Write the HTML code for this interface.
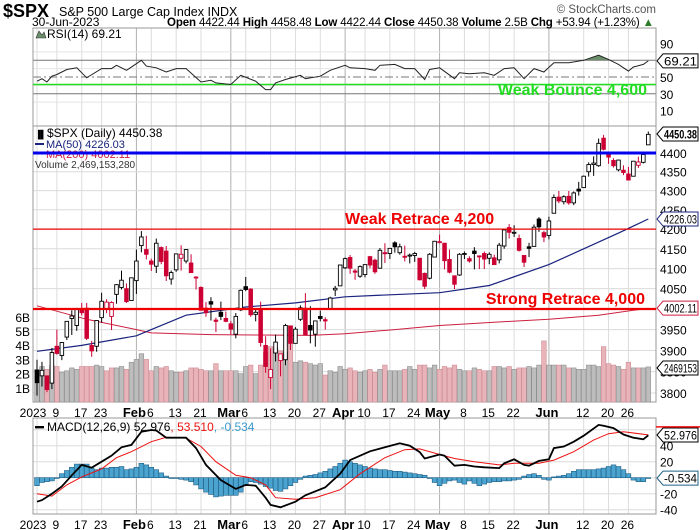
<!DOCTYPE html>
<html><head><meta charset="utf-8"><style>
html,body{margin:0;padding:0;background:#fff;}
svg{display:block;font-family:"Liberation Sans",sans-serif;}
</style></head><body>
<svg id="c" width="700" height="530" viewBox="0 0 700 530" xmlns="http://www.w3.org/2000/svg">
<defs><clipPath id="rsiTop"><rect x="33" y="28" width="623" height="32"/></clipPath></defs>
<g id="grid"></g>
<g id="layer"></g>
<text x="3" y="17" font-size="18" font-weight="bold">$SPX</text>
<text x="59" y="16" font-size="12.5">S&amp;P 500 Large Cap Index  INDX</text>
<text x="32" y="26" font-size="12">30-Jun-2023</text>
<text x="167" y="26" font-size="11.5" textLength="487"><tspan font-weight="bold">Open</tspan> 4422.44 <tspan font-weight="bold">High</tspan> 4458.48 <tspan font-weight="bold">Low</tspan> 4422.44 <tspan font-weight="bold">Close</tspan> 4450.38 <tspan font-weight="bold">Volume</tspan> 2.5B <tspan font-weight="bold">Chg</tspan> +53.94 (+1.23%) <tspan fill="#2a7a2a">▲</tspan></text>
<text x="656" y="13" font-size="11.5" fill="#555" text-anchor="end">© StockCharts.com</text>
</svg>
<script>
const NS='http://www.w3.org/2000/svg';
const svg=document.getElementById('c');
const layer=document.getElementById('layer');
const grid=document.getElementById('grid');
const opens=[3853,3840,3840,3823,3910,3888,3932,3977,3960,3999,4002,3912,3910,3979,4001,3982,4036,4053,4050,4021,
4070,4158,4148,4119,4106,4153,4144,4074,4097,4126,4119,4114,4077,4053,4002,4018,3973,3992,3977,
3964,3939,3998,4055,4049,3987,3998,3912,3836,3894,3876,3878,3958,3917,3975,4002,3960,3939,3982,3974,3999,4047,4057,
4102,4128,4094,4081,4085,4130,4121,4101,4140,4138,4165,4140,4131,4133,4133,4126,4088,4076,4129,
4166,4164,4123,4082,4084,4136,4125,4144,4132,4138,4126,4127,4122,4157,4204,4191,4176,4133,4155,4156,4226,4191,
4184,4241,4283,4271,4285,4268,4304,4308,4350,4369,4366,4440,4396,4380,4355,4354,4344,4338,4367,4375,4422];
const highs=[3878,3873,3840,3906,3950,3920,3970,3997,4003,4015,4015,3923,3972,4040,4024,4019,4061,4095,4063,4077,
4148,4195,4183,4125,4176,4156,4157,4095,4138,4159,4149,4136,4081,4056,4017,4029,3979,4018,3994,
3971,3990,4048,4079,4051,4000,4018,3934,3905,3938,3891,3964,3959,3956,4009,4039,4007,3972,3996,3980,4030,4057,4109,
4128,4134,4099,4108,4110,4132,4125,4152,4164,4152,4169,4163,4158,4138,4142,4127,4090,4139,4170,
4186,4165,4148,4083,4139,4143,4131,4154,4132,4143,4141,4135,4165,4199,4213,4210,4186,4132,4165,4212,4231,4196,
4232,4290,4299,4288,4299,4298,4323,4340,4375,4391,4439,4449,4401,4386,4382,4367,4363,4378,4390,4398,4458];
const lows=[3794,3815,3802,3809,3890,3877,3925,3937,3947,3984,3925,3885,3897,3967,3990,3949,4013,4048,4015,4021,
4037,4141,4123,4094,4089,4111,4069,4060,4092,4095,4113,4089,4048,3997,3981,3972,3944,3973,3968,
3939,3929,3995,4044,3981,3970,3909,3847,3809,3874,3839,3865,3901,3917,3971,3936,3917,3909,3970,3950,3999,4032,4057,
4099,4087,4072,4077,4078,4101,4087,4100,4114,4124,4140,4135,4118,4113,4117,4071,4049,4073,4128,
4164,4098,4088,4049,4082,4124,4115,4098,4099,4099,4111,4109,4113,4150,4176,4180,4143,4104,4129,4156,4193,4167,
4174,4241,4267,4264,4263,4262,4287,4308,4337,4339,4363,4407,4371,4361,4351,4341,4328,4338,4360,4372,4422];
const closes=[3824,3853,3808,3895,3893,3919,3970,3983,3999,3991,3929,3899,3972,4019,4017,4016,4060,4071,4018,4077,
4119,4180,4136,4111,4164,4118,4082,4090,4137,4136,4148,4090,4079,3997,3991,4012,3970,3982,3970,
3951,3982,4046,4048,3986,3992,3919,3862,3855,3920,3892,3960,3917,3951,4003,3937,3949,3971,3977,3971,4027,4051,4109,
4125,4101,4091,4105,4110,4109,4092,4146,4138,4151,4155,4155,4130,4134,4138,4072,4056,4136,4169,
4168,4120,4091,4061,4136,4138,4119,4138,4131,4124,4136,4110,4159,4198,4192,4192,4146,4116,4151,4205,4206,4180,
4221,4282,4273,4284,4268,4294,4299,4338,4369,4373,4426,4410,4389,4366,4381,4348,4328,4378,4376,4396,4450.38];
const volumes=[2.3,2.5,2.3,2.6,2.5,2.1,2.2,2.4,2.3,2.5,2.5,2.5,2.6,2.5,2.2,2.4,2.4,2.5,2.3,2.8,
3.0,3.4,3.0,2.2,2.5,2.4,2.5,2.2,2.1,2.1,2.2,2.4,2.4,2.3,2.2,2.2,2.7,2.2,2.2,
2.2,2.2,2.0,2.5,2.6,2.0,2.6,3.5,3.9,3.8,3.6,3.5,5.4,2.8,2.9,2.8,2.7,2.6,2.7,1.9,2.2,2.1,2.5,
2.3,2.4,2.2,2.1,2.2,2.3,2.1,2.3,2.6,2.2,2.2,2.2,2.3,2.5,2.3,2.6,2.6,2.4,2.6,
2.3,2.5,2.4,2.6,2.3,2.2,2.2,2.4,2.3,2.2,2.2,2.5,2.5,2.4,2.5,2.3,2.4,2.4,2.5,2.4,2.6,4.3,
2.6,2.6,2.6,2.6,2.4,2.4,2.3,2.3,2.6,2.6,2.5,3.9,2.7,2.6,2.5,2.3,2.8,2.4,2.4,2.4,2.469];
const ma50Day=[0,9,20,23,30,42,52,62,71,81,91,103,110,117,123];
const ma50Val=[3898,3912,3935,3950,3985,4005,4015,4030,4035,4040,4058,4110,4150,4190,4226.03];
const ma200Day=[0,10,20,23,35,45,55,62,72,81,92,103,113,123];
const ma200Val=[4008,3975,3950,3942,3938,3937,3936,3940,3950,3960,3968,3975,3985,4002.11];
const rsiDay=[0,1,2,3,4,6,8,10,13,15,16,18,21,22,24,26,28,30,33,35,36,39,41,44,46,47,48,50,53,54,57,59,62,63,66,68,69,72,74,76,78,79,81,84,85,87,90,92,94,96,98,100,102,104,107,110,113,115,117,119,120,122,123];
const rsiVal=[45,48,44,51,53,59,61,49,60,60,64,58,70,63,61,56,60,60,44,46,43,41,52,45,35,35,43,47,52,48,51,58,64,61,60,58,64,65,60,60,47,59,61,48,55,54,55,52,60,61,48,60,56,67,67,70,76,71,65,57,62,65,69.21];
const macdDay=[0,1,3,5,7,9,11,13,15,17,19,21,23,24,26,30,32,34,37,40,42,44,46,47,49,52,54,58,61,63,67,70,73,75,77,78,81,82,84,86,88,90,93,94,96,98,99,101,103,104,106,108,110,113,114,116,118,120,122,123];
const macdVal=[-30,-28,-20,-11,3,16,12.5,20,27.5,38,41,57.5,59.6,59,50,50,37,16,-3,-14,-9,-10,-25,-34,-37,-30,-22,-12,5,22,33,38,43,40,32,24,29,27.5,15,16,14,13,12,18,23,16,15,21,23,37,39,45,52.5,66,65,62,54,50,48,52.976];
const sigDay=[0,3,6,9,13,16,19,23,26,30,33,36,40,43,46,48,52,56,61,65,70,74,77,81,84,88,93,96,101,104,108,112,115,118,123];
const sigVal=[-20,-23,-9,1,11,25,32.5,45,50.5,49.5,39,20,3,0,-9,-25,-27,-25,-15,5,25,35,36,29,24,20,16,18,18,22,32.5,47,55,57.5,53.51];
const histVal=[-10,-6,-5,-4,-1,5,9,13,17,17,17,12,10,12,12,13,13,14,10,11,13,18,16,13,10,6,2,-1,-1,-2,
-3,-5,-9,-14,-18,-21,-24,-23,-22,-22,-22,-18,-10,-5,-6,-8,-11,-13,-16,-17,-14,-10,-6,-2,2,3,4,6,8,11,
14,18,22,20,18,16,14,12,11,10,10,9,8,8,7,6,5,4,3,0,-6,-10,-7,-4,-3,-6,-8,-4,-7,-10,
-8,-6,-5,-5,-4,-4,-3,-2,2,4,5,3,-2,-3,1,2,3,5,8,10,10,10,10,11,12,14,16,14,10,5,-3,-5,-5,-0.534];
const tickDay=[0,4,9,13,20,23,28,33,39,42,47,52,57,62,66,71,76,81,86,91,96,103,110,115,119];
const tickLabel=['2023','9','17','23','Feb','6','13','21','Mar','6','13','20','27','Apr','10','17','24','May','8','15','22','Jun','12','20','26'];
const priceTicks=[4400,4350,4300,4250,4200,4150,4100,4050,4000,3950,3900,3850,3800];
const rsiTicks=[90,70,50,30,10];
const volTicks=[1,2,3,4,5,6];
const macdTicks=[60,40,20,0,-20,-40];

const X0=33,X1=656;
const xi=i=>37+i*4.97;
const yP=p=>153+(Math.log(4400)-Math.log(p))*1637;
const yV=v=>402-v*14.2;
const yR=r=>77-(r-50)*0.8375;
const yM=m=>477.7-m*0.8;

function el(tag,attrs,parent){const e=document.createElementNS(NS,tag);for(const k in attrs)e.setAttribute(k,attrs[k]);(parent||layer).appendChild(e);return e;}
function txt(x,y,s,attrs,parent){const t=el('text',Object.assign({x:x,y:y,'font-size':11},attrs||{}),parent);t.textContent=s;return t;}

const panels=[[28,126],[126,402],[418,514]];
panels.forEach(p=>{
  tickDay.forEach((d,k)=>{
    const month=isNaN(+tickLabel[k])&&k>0;
    el('line',{x1:xi(d),x2:xi(d),y1:p[0],y2:p[1],stroke:month?'#b0b0b0':'#dcdcdc','stroke-width':1},grid);
  });
});
priceTicks.forEach(v=>{el('line',{x1:X0,x2:X1,y1:yP(v),y2:yP(v),stroke:'#dcdcdc'},grid);});
[80,60,40,20].forEach(v=>{el('line',{x1:X0,x2:X1,y1:yR(v),y2:yR(v),stroke:'#e4e4e4'},grid);});
[70,30].forEach(v=>{el('line',{x1:X0,x2:X1,y1:yR(v),y2:yR(v),stroke:'#777'},grid);});
el('line',{x1:X0,x2:X1,y1:yR(50),y2:yR(50),stroke:'#777','stroke-dasharray':'8,3,2,3'},grid);
macdTicks.forEach(v=>{el('line',{x1:X0,x2:X1,y1:yM(v),y2:yM(v),stroke:'#dcdcdc'},grid);});
[[28,126],[126,402],[418,514]].forEach(p=>{el('rect',{x:X0,y:p[0],width:X1-X0,height:p[1]-p[0],fill:'none',stroke:'#999'},grid);});

rsiTicks.forEach(v=>{if(v!==70){const t=txt(660,yR(v)+5,String(v),{'font-size':12});

}});
priceTicks.forEach(v=>{const t=txt(660,yP(v)+5,String(v),{'font-size':12});

});
volTicks.forEach(v=>{const t=txt(30,yV(v)+5,v+'B',{'font-size':12,'text-anchor':'end'});

});
macdTicks.forEach(v=>{if(v!==60&&v!==0){const t=txt(660,yM(v)+5,String(v),{'font-size':12});

}});
[417,529].forEach(by=>{
  tickDay.forEach((d,k)=>{
    const s=tickLabel[k];const bold=isNaN(+s);
    const cx=k===0?33:(bold?xi(d)-2:xi(d)-1);
    const t=txt(cx,by,s,{'font-size':bold?13:12,'font-weight':bold?'bold':'normal','text-anchor':'middle'});
    
    
  });
});

volumes.forEach((v,i)=>{
  const down=i>0&&closes[i]<closes[i-1];
  const r=el('rect',{x:xi(i)-2.3,y:yV(v),width:4.6,height:402-yV(v),fill:down?'#e8b4ba':'#bdbdbd',stroke:down?'#cf8d95':'#8f8f8f','stroke-width':0.6});
  
  
});

function pathFrom(days,vals,yf){return days.map((d,k)=>(k?'L':'M')+xi(d).toFixed(1)+','+yf(vals[k]).toFixed(1)).join('');}
const m200=el('path',{d:pathFrom(ma200Day,ma200Val,yP),fill:'none',stroke:'#cc1f3f','stroke-width':1});


const m50=el('path',{d:pathFrom(ma50Day,ma50Val,yP),fill:'none',stroke:'#1a237e','stroke-width':1.2});



closes.forEach((c,i)=>{
  const o=opens[i];const down=i>0&&c<closes[i-1];const col=down?'#cc0033':'#000';
  const g=el('g',{});
  
  
  el('line',{x1:xi(i),x2:xi(i),y1:yP(highs[i]),y2:yP(lows[i]),stroke:col,'stroke-width':1},g);
  const top=yP(Math.max(o,c)),bot=yP(Math.min(o,c));
  el('rect',{x:xi(i)-1.8,y:top,width:3.6,height:Math.max(1,bot-top),fill:c<o?col:'#fff',stroke:col,'stroke-width':0.9},g);
});

const l4400=el('line',{x1:X0,x2:X1,y1:yP(4400),y2:yP(4400),stroke:'#0000ee','stroke-width':3});


const l4200=el('line',{x1:X0,x2:X1,y1:yP(4200),y2:yP(4200),stroke:'#ee0000','stroke-width':1.3});


const l4000=el('line',{x1:X0,x2:X1,y1:yP(4000),y2:yP(4000),stroke:'#ee0000','stroke-width':2.2});


const lg=el('line',{x1:X0,x2:X1,y1:84.5,y2:84.5,stroke:'#22dd22','stroke-width':1.6});


let t;
t=txt(647,95,'Weak Bounce 4,600',{'font-size':16,'font-weight':'bold',fill:'#22dd22','text-anchor':'end'});


t=txt(345,224,'Weak Retrace 4,200',{'font-size':16,'font-weight':'bold',fill:'#ee0000'});


t=txt(645,304,'Strong Retrace 4,000',{'font-size':16,'font-weight':'bold',fill:'#ee0000','text-anchor':'end'});



const rsiPath=pathFrom(rsiDay,rsiVal,yR);
const rsiFill=el('path',{d:rsiPath+'L'+xi(123)+','+yR(70)+'L'+xi(0)+','+yR(70)+'Z',fill:'#6b8e6b','clip-path':'url(#rsiTop)'});


const rsiLine=el('path',{d:rsiPath,fill:'none',stroke:'#222','stroke-width':1});



histVal.forEach((v,i)=>{
  const y=Math.min(yM(v),yM(0));
  const r=el('rect',{x:xi(i)-2.4,y:y,width:4.8,height:Math.max(0.8,Math.abs(yM(v)-yM(0))),fill:'#4ba3cf',stroke:'#1f5f86','stroke-width':0.6});
  
  
});
const sig=el('path',{d:pathFrom(sigDay,sigVal,yM),fill:'none',stroke:'#ee1111','stroke-width':1});


const mac=el('path',{d:pathFrom(macdDay,macdVal,yM),fill:'none',stroke:'#000','stroke-width':1.8});



const ri=el('path',{d:'M36,38 L39,31 L42,35 L44,32 L46,38 Z',fill:'#6b8e6b',stroke:'#333','stroke-width':0.6});


t=txt(47,38,'RSI(14) 69.21',{'font-size':12});


t=txt(35,137,'\u2590\u258C',{'font-size':8});


t=txt(47,137,'$SPX (Daily) 4450.38',{'font-size':12});


el('rect',{x:35,y:143,width:9,height:2,fill:'#1a237e'});
t=txt(46,148,'MA(50) 4226.03',{'font-size':11,fill:'#1a237e'});


t=txt(46,158,'MA(200) 4002.11',{'font-size':11,fill:'#cc1f3f'});


el('line',{x1:X0,x2:X1,y1:yP(4400),y2:yP(4400),stroke:'#0000ee','stroke-width':3});
t=txt(35,168,'Volume 2,469,153,280',{'font-size':10,fill:'#333'});


el('rect',{x:35,y:426,width:9,height:2.4,fill:'#000'});
t=txt(47,431,'',{'font-size':12});
t.innerHTML='MACD(12,26,9) 52.976<tspan fill="#ee1111">, 53.510</tspan><tspan fill="#3a9bd0">, -0.534</tspan>';



function tag(y,s,color,bold,name){
  const g=el('g',{});
  
  
  el('path',{d:`M657,${y} L663,${y-7} L698,${y-7} L698,${y+7} L663,${y+7} Z`,fill:'#fff',stroke:color,'stroke-width':1},g);
  txt(664,y+4.5,s,{'font-size':bold?12:11.5,'font-weight':bold?'bold':'normal',textLength:33,lengthAdjust:'spacingAndGlyphs'},g);
}
tag(yR(69.21),'69.21','#000',false,'rsi-value-tag');
tag(134,'4450.38','#000',true,'price-value-tag');
tag(yP(4226.03),'4226.03','#1a237e',false,'ma50-value-tag');
tag(yP(4002.11),'4002.11','#cc1f3f',false,'ma200-value-tag');
tag(368,'2469153','#000',false,'volume-value-tag');
tag(435,'52.976','#000',false,'macd-value-tag');
tag(yM(-0.534),'-0.534','#1f5f86',false,'histogram-value-tag');
el('line',{x1:656,x2:700,y1:yM(53.51)-8,y2:yM(53.51)-8,stroke:'#ee1111','stroke-width':1.5});
</script>
</body></html>
